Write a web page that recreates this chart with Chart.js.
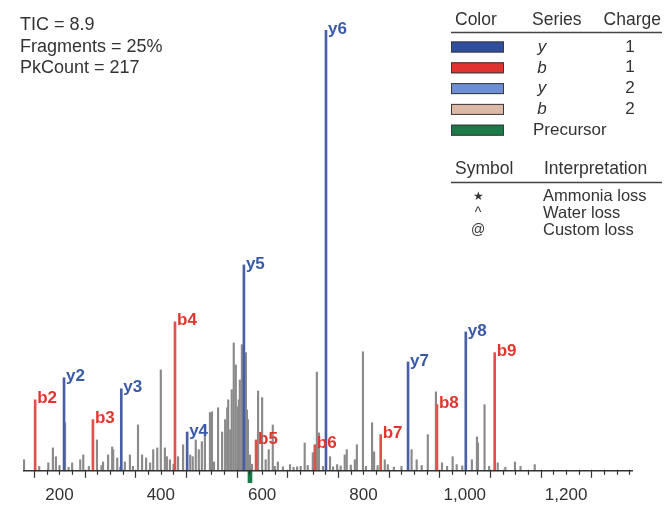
<!DOCTYPE html>
<html>
<head>
<meta charset="utf-8">
<script src="https://cdn.jsdelivr.net/npm/chart.js@4"></script>
<style>
  html, body { margin: 0; padding: 0; background: #fff; }
  canvas { display: block; }
</style>
</head>
<body>
<canvas id="spectrum" width="664" height="508"></canvas>
<script>
// annotated fragment ions (m/z, relative intensity %)
var yIonNames = ['y2', 'y3', 'y4', 'y5', 'y6', 'y7', 'y8'];
var yIonMz = [209, 322, 452, 564, 726, 888, 1002];
var yIonInt = [21.1, 18.6, 8.8, 46.7, 100, 24.7, 31.5];

var bIonNames = ['b2', 'b3', 'b4', 'b5', 'b6', 'b7', 'b8', 'b9'];
var bIonMz = [152, 266, 428, 588, 704, 834, 945, 1059];
var bIonInt = [16.1, 11.6, 33.8, 7.0, 5.9, 8.2, 15.0, 26.8];

// unassigned peaks
var otherMz = [130, 160, 178, 187, 193, 200, 211, 218, 225, 241, 247, 258, 274, 283, 286, 296, 304, 306, 314, 320,
  329, 339, 345, 355, 363, 371, 379, 385, 393, 400, 408, 412, 418, 425, 434, 444, 458, 463, 469, 475,
  481, 487, 497, 501, 505, 513, 521, 527, 531, 533, 537, 540, 544, 548, 552, 554, 556, 560, 562, 568,
  570, 572, 576, 580, 592, 600, 607, 613, 621, 625, 631, 641, 655, 662, 669, 676, 684, 690, 700, 708,
  712, 720, 734, 740, 748, 755, 763, 767, 775, 783, 787, 799, 805, 817, 821, 828, 842, 848, 860, 875,
  895, 905, 915, 927, 943, 955, 965, 976, 984, 995, 1014, 1024, 1026, 1039, 1048, 1065, 1080, 1099, 1110, 1138];
var otherInt = [2.5, 1.0, 1.8, 5.2, 3.2, 1.2, 10.9, 0.8, 1.8, 2.5, 3.6, 1.0, 7.0, 1.2, 2.0, 3.6, 5.4, 4.8, 2.9, 0.8,
  2.0, 3.6, 1.0, 10.4, 3.6, 2.9, 1.8, 4.8, 5.2, 22.9, 5.2, 3.2, 2.5, 1.5, 3.2, 5.9, 3.6, 3.2, 7.0, 4.8,
  6.6, 10.0, 13.2, 13.4, 2.0, 14.3, 8.8, 11.6, 14.3, 16.1, 9.3, 18.4, 29.0, 24.0, 14.5, 16.1, 20.6, 28.6, 22.0, 26.8,
  13.8, 11.6, 3.6, 1.5, 18.1, 16.6, 2.5, 4.8, 10.4, 1.0, 2.0, 0.9, 1.4, 0.8, 0.9, 1.0, 6.3, 1.2, 4.1, 22.4,
  8.6, 1.0, 3.2, 0.9, 1.4, 1.1, 3.6, 4.8, 1.3, 2.5, 5.9, 27.0, 1.0, 10.9, 4.3, 1.2, 2.5, 1.4, 0.8, 1.0,
  4.8, 2.5, 1.2, 8.2, 17.9, 1.8, 1.0, 3.2, 1.4, 1.1, 2.5, 7.7, 6.3, 15.0, 1.0, 1.8, 0.8, 2.0, 1.0, 1.4];

var precursorMz = 576;
var tickLabels = [200, 400, 600, 800, 1000, 1200];

var statLines = ['TIC = 8.9', 'Fragments = 25%', 'PkCount = 217'];
var legendHeader = ['Color', 'Series', 'Charge'];
var legendColors = ['#2f4e9e', '#e2322e', '#6d8ed2', '#dcb8a6', '#1c7a48'];
var legendSeries = ['y', 'b', 'y', 'b', 'Precursor'];
var legendCharge = ['1', '1', '2', '2', ''];
var symbolHeader = ['Symbol', 'Interpretation'];
var symbolMarks = ['\u2605', '^', '@'];
var symbolMeaning = ['Ammonia loss', 'Water loss', 'Custom loss'];

var FONT = '"Liberation Sans", Arial, Helvetica, sans-serif';
var TEXT = '#333';

function points(mz, inten) {
  return mz.map(function (m, i) { return { x: m, y: inten[i] }; });
}

// baseline with minor/major ticks, drawn at intensity 0
var axisPlugin = {
  id: 'mzAxis',
  afterDatasetsDraw: function (chart) {
    var ctx = chart.ctx, xs = chart.scales.x, ys = chart.scales.y;
    var y0 = ys.getPixelForValue(0);
    ctx.save();
    ctx.strokeStyle = '#333';
    ctx.lineWidth = 1.5;
    ctx.beginPath();
    ctx.moveTo(xs.getPixelForValue(xs.min), y0);
    ctx.lineTo(xs.getPixelForValue(xs.max), y0);
    ctx.stroke();
    ctx.lineWidth = 1.2;
    for (var v = 150; v <= 1325; v += 25) {
      var px = Math.round(xs.getPixelForValue(v)) + 0.5;
      var len = (v - 150) % 100 === 0 ? 7 : 4;
      ctx.beginPath();
      ctx.moveTo(px, y0 - 1);
      ctx.lineTo(px, y0 + len);
      ctx.stroke();
    }
    ctx.restore();
  }
};

// ion names next to the top of each annotated peak
var ionLabelPlugin = {
  id: 'ionLabels',
  afterDatasetsDraw: function (chart) {
    var ctx = chart.ctx;
    ctx.save();
    ctx.font = 'bold 17px ' + FONT;
    ctx.textAlign = 'left';
    ctx.textBaseline = 'middle';
    [[0, yIonNames, '#3a5aa8'], [1, bIonNames, '#e2352f']].forEach(function (s) {
      var meta = chart.getDatasetMeta(s[0]);
      ctx.fillStyle = s[2];
      meta.data.forEach(function (el, i) {
        ctx.fillText(s[1][i], el.x + 2, el.y - 1);
      });
    });
    ctx.restore();
  }
};

// stats text and the two key tables
var notesPlugin = {
  id: 'notes',
  afterDraw: function (chart) {
    var ctx = chart.ctx;
    ctx.save();
    ctx.fillStyle = TEXT;
    ctx.textBaseline = 'middle';
    ctx.font = '18px ' + FONT;
    statLines.forEach(function (t, i) { ctx.fillText(t, 20, 25 + i * 21.7); });

    ctx.font = '17.5px ' + FONT;
    ctx.fillText(legendHeader[0], 455, 20);
    ctx.fillText(legendHeader[1], 532, 20);
    ctx.textAlign = 'right';
    ctx.fillText(legendHeader[2], 661, 20);
    ctx.textAlign = 'left';
    ctx.strokeStyle = '#444';
    ctx.lineWidth = 1.5;
    ctx.beginPath(); ctx.moveTo(451, 32.5); ctx.lineTo(662, 32.5); ctx.stroke();

    legendColors.forEach(function (c, i) {
      var cy = 47 + i * 20.8;
      ctx.fillStyle = c;
      ctx.fillRect(451, cy - 5.5, 53, 11);
      ctx.strokeStyle = '#3a3a3a';
      ctx.lineWidth = 1;
      ctx.strokeRect(451.5, cy - 5, 52, 10);
      ctx.fillStyle = TEXT;
      if (legendSeries[i].length === 1) {
        ctx.font = 'italic 17px ' + FONT;
        ctx.textAlign = 'center';
        ctx.fillText(legendSeries[i], 542, cy);
        ctx.font = '17px ' + FONT;
        ctx.fillText(legendCharge[i], 630, cy);
        ctx.textAlign = 'left';
      } else {
        ctx.font = '17px ' + FONT;
        ctx.fillText(legendSeries[i], 533, cy);
      }
    });

    ctx.font = '17.5px ' + FONT;
    ctx.fillText(symbolHeader[0], 455, 169);
    ctx.fillText(symbolHeader[1], 544, 169);
    ctx.strokeStyle = '#444';
    ctx.lineWidth = 1.5;
    ctx.beginPath(); ctx.moveTo(451, 182.5); ctx.lineTo(662, 182.5); ctx.stroke();
    symbolMeaning.forEach(function (t, i) {
      var cy = 196.5 + i * 16.8;
      ctx.font = (i === 0 ? '12px ' : '14px ') + FONT;
      ctx.textAlign = 'center';
      ctx.fillText(symbolMarks[i], 478, cy);
      ctx.textAlign = 'left';
      ctx.font = '16.5px ' + FONT;
      ctx.fillText(t, 543, cy);
    });
    ctx.restore();
  }
};

var ctx = document.getElementById('spectrum').getContext('2d');
new Chart(ctx, {
  type: 'bar',
  data: {
    datasets: [
      { label: 'y', data: points(yIonMz, yIonInt), backgroundColor: '#4a5ea6', barThickness: 2, grouped: false, order: 1 },
      { label: 'b', data: points(bIonMz, bIonInt), backgroundColor: '#e0514b', barThickness: 2, grouped: false, order: 1 },
      { label: 'Precursor', data: [{ x: precursorMz, y: [-2.7, 0] }], backgroundColor: '#1c7a48', barThickness: 4, grouped: false, order: 0 },
      { label: 'other', data: points(otherMz, otherInt), backgroundColor: '#8a8a8a', barThickness: 1.5, grouped: false, order: 2 }
    ]
  },
  options: {
    responsive: false,
    animation: false,
    devicePixelRatio: 1,
    layout: { padding: { left: 23, right: 31, top: 30, bottom: 0 } },
    plugins: { legend: { display: false }, tooltip: { enabled: false } },
    scales: {
      x: {
        type: 'linear',
        offset: false,
        min: 128,
        max: 1332,
        grid: { display: false, drawTicks: false, offset: false },
        border: { display: false },
        ticks: {
          stepSize: 25,
          autoSkip: false,
          maxRotation: 0,
          padding: 1,
          color: TEXT,
          font: { family: FONT, size: 17 },
          callback: function (v) {
            return tickLabels.indexOf(v) >= 0 ? v.toLocaleString('en-US') : '';
          }
        },
        afterFit: function (s) { s.height = 24; }
      },
      y: { display: false, min: -3, max: 100 }
    }
  },
  plugins: [axisPlugin, ionLabelPlugin, notesPlugin]
});
</script>
</body>
</html>
